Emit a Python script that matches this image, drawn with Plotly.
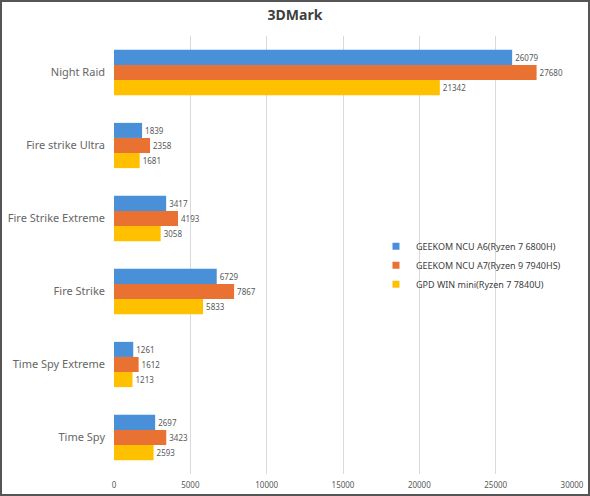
import plotly.graph_objects as go

categories = ["Night Raid", "Fire strike Ultra", "Fire Strike Extreme",
              "Fire Strike", "Time Spy Extreme", "Time Spy"]
series_names = ["GEEKOM NCU A6(Ryzen 7 6800H)",
                "GEEKOM NCU A7(Ryzen 9 7940HS)",
                "GPD WIN mini(Ryzen 7 7840U)"]
a6_scores = [26079, 1839, 3417, 6729, 1261, 2697]
a7_scores = [27680, 2358, 4193, 7867, 1612, 3423]
gpd_scores = [21342, 1681, 3058, 5833, 1213, 2593]
x_ticks = [0, 5000, 10000, 15000, 20000, 25000, 30000]

colors = ["#4A90D9", "#E97132", "#FFC000"]
values = [a6_scores, a7_scores, gpd_scores]

W, H = 590, 496
ML, MR, MT, MB = 114, 18, 36, 22

fig = go.Figure()
# y axis is reversed, so the first trace sits on top of each group
for name, vals, col in zip(series_names, values, colors):
    fig.add_trace(go.Bar(
        y=categories, x=vals, name=name, orientation="h",
        marker=dict(color=col, line=dict(width=0)),
        text=[str(v) for v in vals], textposition="outside",
        textfont=dict(size=8, color="#595959"),
        cliponaxis=False, showlegend=False,
    ))

# small square legend keys like the original
for name, col in zip(series_names, colors):
    fig.add_trace(go.Scatter(
        x=[None], y=[None], mode="markers", name=name,
        marker=dict(symbol="square", size=7, color=col),
    ))

pw = W - ML - MR
ph = H - MT - MB
fig.add_shape(type="rect", xref="paper", yref="paper",
              x0=(1 - ML) / pw, x1=(W - 1 - ML) / pw,
              y0=-(MB - 1) / ph, y1=1 + (MT - 1) / ph,
              line=dict(color="#555555", width=2), layer="above")

fig.update_layout(
    width=W, height=H,
    margin=dict(l=ML, r=MR, t=MT, b=MB, autoexpand=False),
    paper_bgcolor="white", plot_bgcolor="white",
    font=dict(family="Noto Sans, Liberation Sans, sans-serif", color="#595959"),
    title=dict(text="<b>3DMark</b>", x=0.5, xanchor="center", y=0.97, yanchor="middle",
               font=dict(size=14, color="#404040")),
    barmode="group", bargap=0.38, bargroupgap=0,
    showlegend=True,
    legend=dict(x=0.572, y=0.553, xanchor="left", yanchor="top",
                font=dict(size=9, color="#404040"),
                bgcolor="rgba(0,0,0,0)", itemwidth=30, tracegroupgap=0),
)
fig.update_xaxes(range=[0, 30000], tickvals=x_ticks, ticktext=[str(t) for t in x_ticks],
                 showgrid=True, gridcolor="#D9D9D9", gridwidth=1, zeroline=False,
                 tickfont=dict(size=8, color="#595959"), ticks="", showline=False,
                 ticklabelstandoff=5, automargin=False)
fig.update_yaxes(autorange="reversed", tickfont=dict(size=11, color="#666666"),
                 ticks="", showline=False, ticklabelstandoff=8, automargin=False)

# drop the browser's default body margin so the figure fills the window
fig.write_html("out.html", config={"displayModeBar": False},
               post_script="document.body.style.margin='0';")
